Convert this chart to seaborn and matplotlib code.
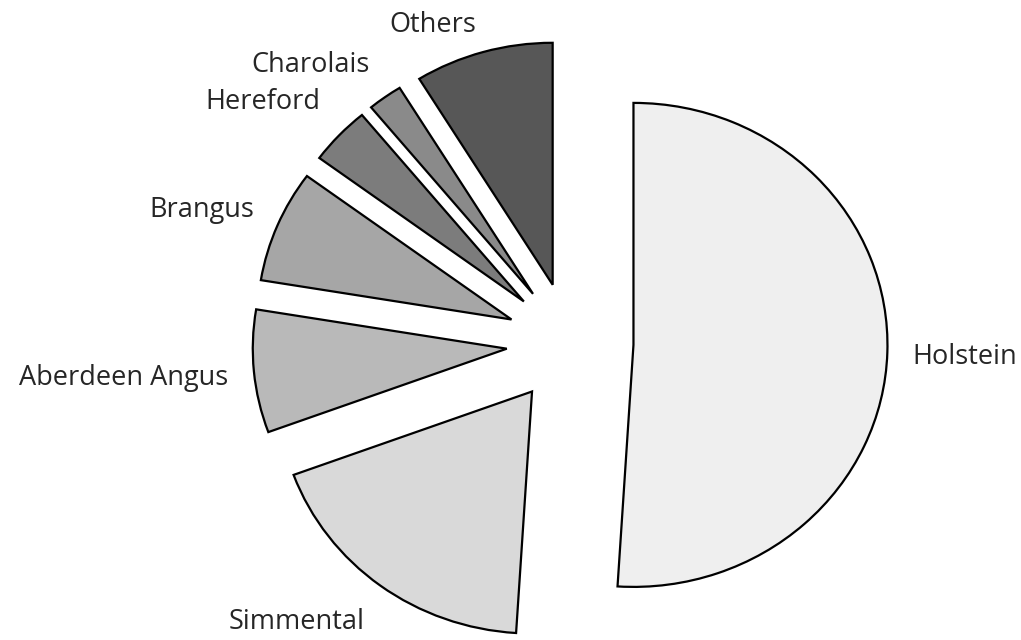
import matplotlib
matplotlib.use("Agg")
import matplotlib.pyplot as plt
import matplotlib.transforms as mtransforms
import seaborn as sns

sns.set_theme(style="white")
plt.rcParams['font.family'] = ['Open Sans', 'DejaVu Sans']

# Data (share of herd, %); clockwise from 12 o'clock
breeds = ["Holstein", "Simmental", "Aberdeen Angus", "Brangus", "Hereford", "Charolais", "Others"]
shares = [51.0, 18.4, 8.2, 7.5, 3.9, 2.2, 8.8]

# styling (kept separate from the data)
colors = ["#efefef", "#d9d9d9", "#b9b9b9", "#a6a6a6", "#7c7c7c", "#8a8a8a", "#575757"]
explode = [0.25] * len(breeds)
label_nudge_px = [-4, -17, -4, 6, 17, 12, 4]   # vertical label nudges (display px, up = +)

fig = plt.figure(figsize=(10.21, 6.40), dpi=100)
ax = fig.add_axes([0, 0, 1, 1])

wedges, texts = ax.pie(
    shares, labels=breeds, colors=colors, explode=explode,
    startangle=90, counterclock=False, labeldistance=1.1,
    wedgeprops=dict(edgecolor="black", linewidth=1.6),
    textprops=dict(fontsize=19.5, color="#262626"),
)

# pixel layout: pie centre at (570, 343) from top-left, radius ~254 px horiz, ~242 px vert
sx, sy = 254.0, 242.0
cx, cy = 570.0, 343.0
ax.set_aspect('auto')
ax.set_xlim(-cx / sx, (1021 - cx) / sx)
ax.set_ylim(-(640 - cy) / sy, cy / sy)
ax.axis('off')

for t, dy in zip(texts, label_nudge_px):
    t.set_transform(ax.transData + mtransforms.ScaledTranslation(0, dy / 100.0, fig.dpi_scale_trans))

fig.savefig("out.png", dpi=100, facecolor="white")
